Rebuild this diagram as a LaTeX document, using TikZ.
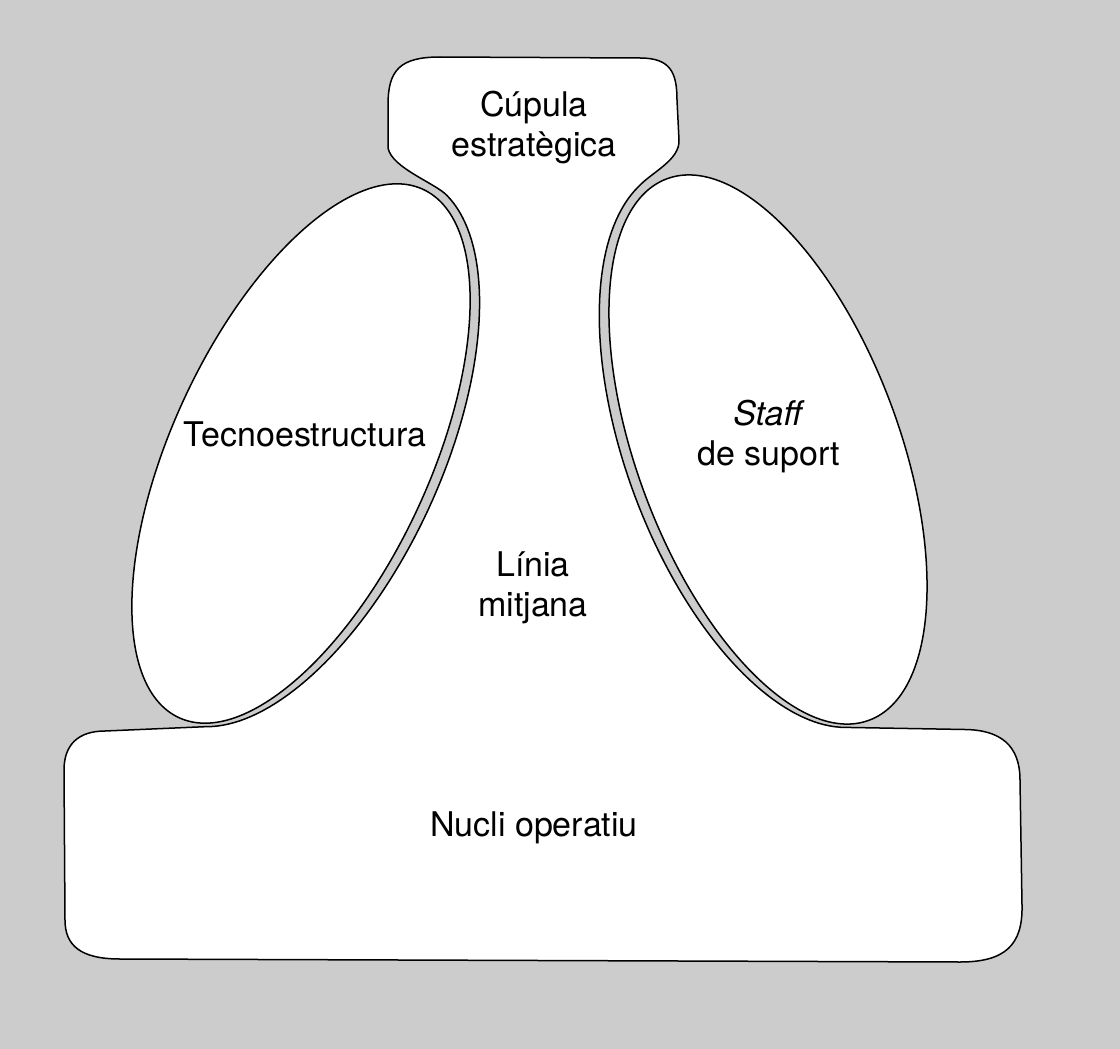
\documentclass[tikz,border=0pt]{standalone}
\usepackage{fontspec}
\setmainfont{TeX Gyre Heros}
\definecolor{my_gray}{RGB}{204, 204, 204}
\tikzset {
  outline/.style = {draw, fill=white, line width=1.5pt, line join=round},
  lobe/.style = {draw, fill=white, line width=1.5pt},
  part/.style = {align=center, font=\fontsize{34}{40}\selectfont, inner sep=0pt},
}

\begin{document}
\begin{tikzpicture}[x=1pt, y=-1pt]

    \fill[my_gray] (0,0) rectangle (1120,1049);
    \useasboundingbox (0,0) rectangle (1120,1049);

    % organisation body, going round clockwise from the top
    \draw[outline] (388,148) -- (388,105)
        .. controls (388,70) and (400,57) .. (440,57) -- (640,58)
        .. controls (670,58) and (677,72) .. (677,100) -- (679,140)
        .. controls (680,160) and (652,172) .. (638.4,186.7)
        -- plot[domain=168:10, samples=80, variable=\t]
            ({766.95 + 103.31*cos(\t) - 132.07*sin(\t)}, {446.69 + 276.33*cos(\t) + 49.38*sin(\t)})
        -- (965,729.5) .. controls (1000,730) and (1020,745) .. (1020,780)
        -- (1022,905) .. controls (1023,945) and (1005,962) .. (960,962)
        -- (120,959) .. controls (80,959) and (65,945) .. (65,920)
        -- (64,770) .. controls (64,745) and (78,731) .. (105,731)
        -- (207.2,726.6)
        -- plot[domain=168:10, samples=80, variable=\t]
            ({302.26 + 124.59*cos(\t) + 126.18*sin(\t)}, {450.78 - 269.62*cos(\t) + 58.31*sin(\t)})
        .. controls (435,183) and (392,168) .. (388,148) -- cycle;

    % the two support units
    \draw[lobe, rotate around={65.2:(301,453.5)}] (301,453.5) ellipse [x radius=291, y radius=129];
    \draw[lobe, rotate around={-69.5:(768,449.5)}] (768,449.5) ellipse [x radius=289, y radius=131];

    \node[part] (cupula) at (534,128) {Cúpula\\estratègica};
    \node[part] (tecno) at (305,434) {Tecnoestructura};
    \node[part] (staff) at (769,437) {\textit{Staff}\\de suport};
    \node[part] (linia) at (533,588) {Línia\\mitjana};
    \node[part] (nucli) at (534,828) {Nucli operatiu};

\end{tikzpicture}
\end{document}
